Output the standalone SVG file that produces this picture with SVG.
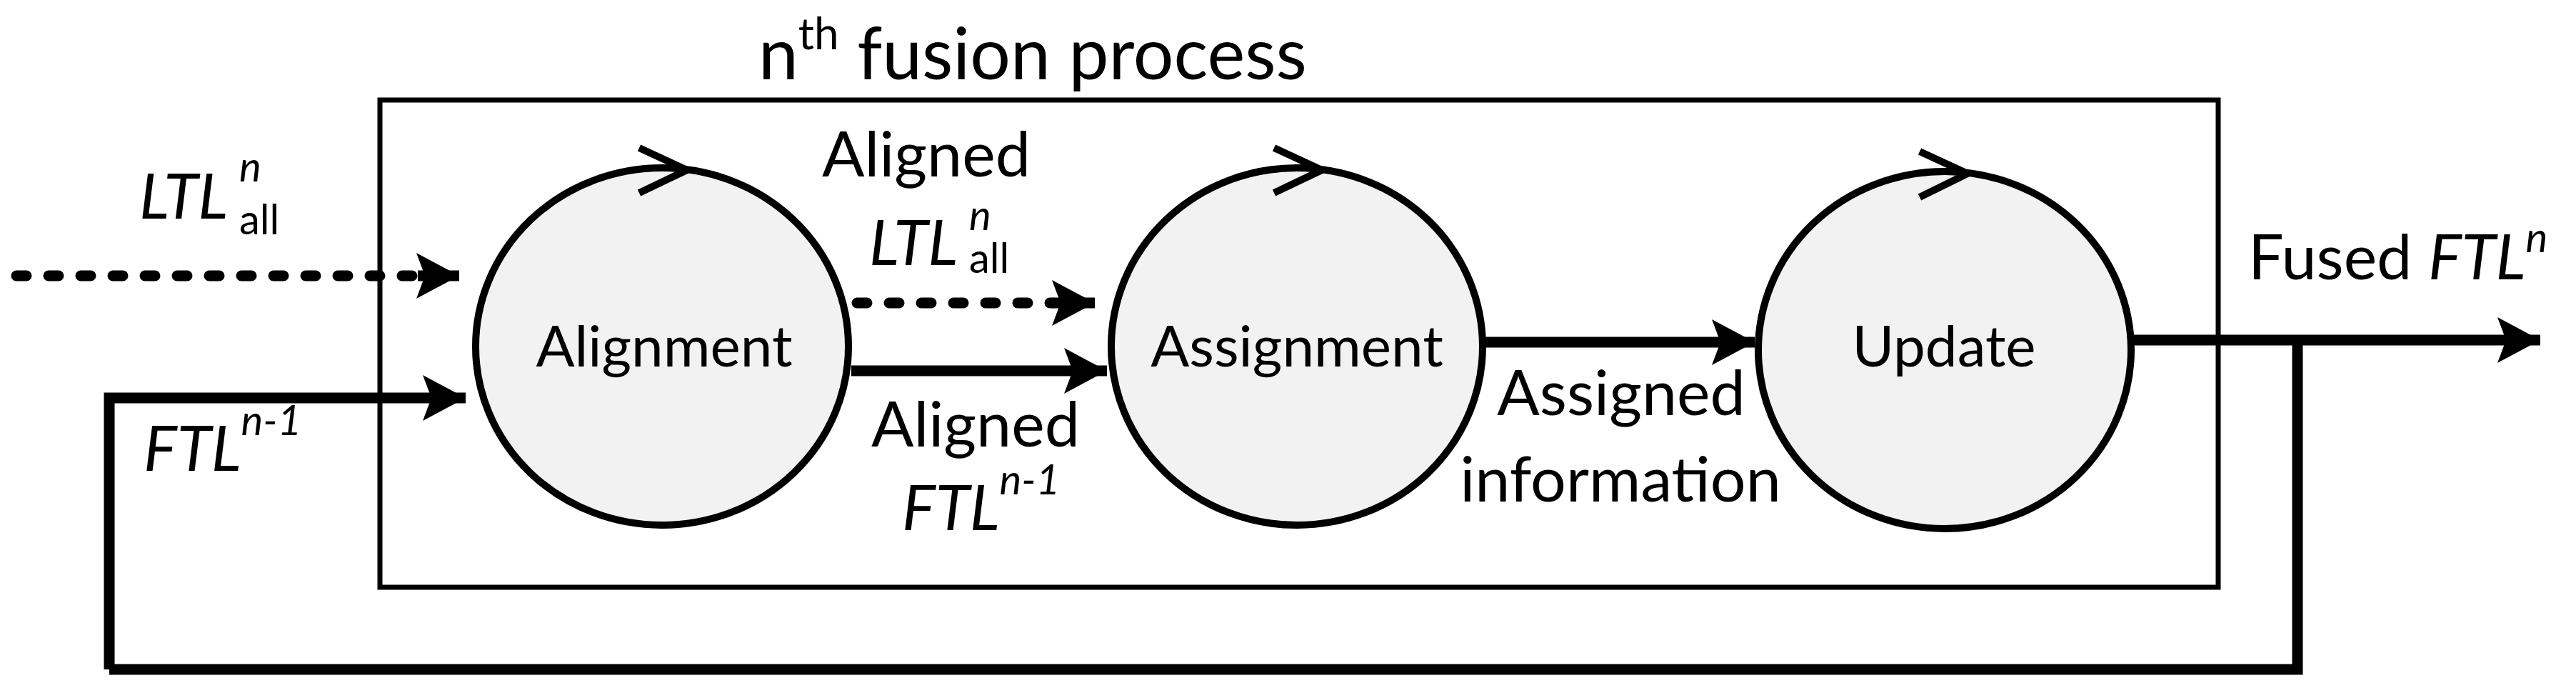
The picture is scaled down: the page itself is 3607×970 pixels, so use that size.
<svg xmlns="http://www.w3.org/2000/svg" width="3607" height="970" viewBox="0 0 3607 970">
<style>
text{font-family:Lato,"Open Sans","Liberation Sans",sans-serif;fill:#000}
.lb{font-size:88px}
.nd{font-size:80px;text-anchor:middle}
.it{font-style:italic}
.sup{font-size:58px;font-style:italic}
.sub{font-size:58px}
.ell{fill:#f2f2f2;stroke:#000;stroke-width:10}
.chev{fill:none;stroke:#000;stroke-width:10}
.ln{fill:none;stroke:#000;stroke-width:15}
.dot{fill:none;stroke:#000;stroke-width:15;stroke-linecap:round;stroke-dasharray:14 31}
</style>
<defs>
<marker id="ah" markerUnits="userSpaceOnUse" markerWidth="70" markerHeight="70" refX="60" refY="32" orient="auto">
<path d="M0,0 L60,32 L0,64 L12,32 Z" fill="#000"/>
</marker>
</defs>
<rect x="532" y="140" width="2574" height="682" fill="none" stroke="#000" stroke-width="7"/>
<text x="1062" y="111" style="font-size:100px">n<tspan dy="-42" style="font-size:62px">th</tspan><tspan dy="42"> fusion process</tspan></text>
<g id="connectors">
<path class="dot" d="M23,386 H585"/>
<path class="ln" d="M585,386 H643" stroke-width="0" marker-end="url(#ah)"/>
<path class="ln" d="M153,937 V557 H652" marker-end="url(#ah)"/>
<path class="dot" d="M1200,424 H1475"/>
<path class="ln" d="M1475,424 H1533" stroke-width="0" marker-end="url(#ah)"/>
<path class="ln" d="M1192,519 H1550" marker-end="url(#ah)"/>
<path class="ln" d="M2076,479 H2457" marker-end="url(#ah)"/>
<path class="ln" d="M2984,476 H3557" marker-end="url(#ah)"/>
<path class="ln" d="M3217,476 V937 H153"/>
</g>
<g id="alignment">
<ellipse class="ell" cx="927" cy="485" rx="261" ry="250"/>
<path class="chev" d="M895,207 L962,238 L895,270"/>
<text class="nd" x="930" y="513">Alignment</text>
</g>
<g id="assignment">
<ellipse class="ell" cx="1816" cy="485" rx="260" ry="250"/>
<path class="chev" d="M1784,207 L1851,238 L1784,270"/>
<text class="nd" x="1816" y="513">Assignment</text>
</g>
<g id="update">
<ellipse class="ell" cx="2723" cy="490" rx="261" ry="250"/>
<path class="chev" d="M2688,212 L2755,243 L2688,276"/>
<text class="nd" x="2722" y="513">Update</text>
</g>
<text class="lb it" x="195" y="306">LTL</text>
<text class="sup" x="335" y="254">n</text>
<text class="sub" x="335" y="328">all</text>
<text class="lb it" x="201" y="659">FTL<tspan class="sup" dy="-50">n-1</tspan></text>
<text class="lb" x="1297" y="247" text-anchor="middle">Aligned</text>
<text class="lb it" x="1217" y="371">LTL</text>
<text class="sup" x="1357" y="322">n</text>
<text class="sub" x="1357" y="382">all</text>
<text class="lb" x="1366" y="625" text-anchor="middle">Aligned</text>
<text class="lb it" x="1263" y="742">FTL<tspan class="sup" dy="-50">n-1</tspan></text>
<text class="lb" x="2270" y="581" text-anchor="middle">Assigned</text>
<text class="lb" x="2269" y="702" text-anchor="middle">information</text>
<text class="lb" x="3148" y="391">Fused <tspan class="it">FTL</tspan><tspan class="sup" dy="-38">n</tspan></text>
</svg>
